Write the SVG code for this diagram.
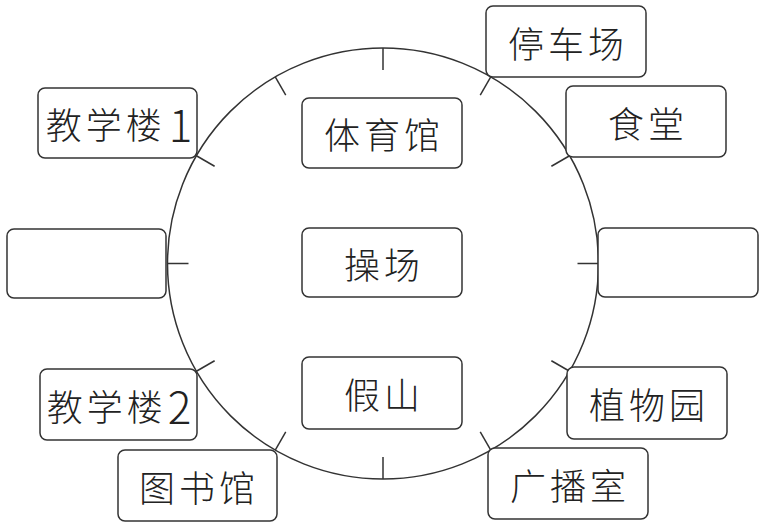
<svg xmlns="http://www.w3.org/2000/svg" width="766" height="528" viewBox="0 0 766 528">
<style>
.ring{fill:none;stroke:#333;stroke-width:1.5}
.tick{stroke:#333;stroke-width:1.5}
.box{fill:#fff;stroke:#333;stroke-width:1.5}
.lbl{font-family:"Noto Sans CJK SC","Noto Sans",sans-serif;font-size:36px;font-weight:300;fill:#222;text-anchor:middle;dominant-baseline:central;letter-spacing:4px}
.num{font-size:44px;font-weight:200}
</style>
<rect width="766" height="528" fill="#fff"/>
<g id="connectors">
<circle class="ring" cx="383" cy="263.5" r="215.5"/>
<line class="tick" x1="383" y1="48" x2="383" y2="70"/>
<line class="tick" x1="490.75" y1="76.9" x2="480.25" y2="95.1"/>
<line class="tick" x1="569.6" y1="155.75" x2="551.4" y2="166.25"/>
<line class="tick" x1="598.5" y1="263.5" x2="577.5" y2="263.5"/>
<line class="tick" x1="569.6" y1="371.25" x2="551.4" y2="360.75"/>
<line class="tick" x1="490.75" y1="450.1" x2="480.25" y2="431.9"/>
<line class="tick" x1="383" y1="479" x2="383" y2="457"/>
<line class="tick" x1="275.25" y1="450.1" x2="285.75" y2="431.9"/>
<line class="tick" x1="196.4" y1="371.25" x2="214.6" y2="360.75"/>
<line class="tick" x1="167.5" y1="263.5" x2="188.5" y2="263.5"/>
<line class="tick" x1="196.4" y1="155.75" x2="214.6" y2="166.25"/>
<line class="tick" x1="275.25" y1="76.9" x2="285.75" y2="95.1"/>
</g>
<g id="jxl1"><rect class="box" x="38" y="88" width="159" height="70" rx="7"/><text class="lbl" x="121" y="123">教学楼<tspan class="num" dx="3">1</tspan></text></g>
<g id="empty-left"><rect class="box" x="7" y="229" width="159" height="69" rx="7"/></g>
<g id="jxl2"><rect class="box" x="40" y="369" width="157" height="71" rx="7"/><text class="lbl" x="121" y="405">教学楼<tspan class="num" dx="1">2</tspan></text></g>
<g id="tsg"><rect class="box" x="118" y="450" width="159" height="71" rx="7"/><text class="lbl" x="199" y="486">图书馆</text></g>
<g id="tyg"><rect class="box" x="302" y="98" width="160" height="70" rx="7"/><text class="lbl" x="384" y="133">体育馆</text></g>
<g id="cc"><rect class="box" x="302" y="228" width="160" height="69" rx="7"/><text class="lbl" x="384" y="263">操场</text></g>
<g id="js"><rect class="box" x="302" y="357" width="160" height="72" rx="7"/><text class="lbl" x="384" y="393">假山</text></g>
<g id="tcc"><rect class="box" x="486" y="6" width="160" height="71" rx="7"/><text class="lbl" x="568" y="42">停车场</text></g>
<g id="st"><rect class="box" x="566" y="86" width="160" height="71" rx="7"/><text class="lbl" x="648" y="122">食堂</text></g>
<g id="empty-right"><rect class="box" x="598" y="228" width="160" height="69" rx="7"/></g>
<g id="zwy"><rect class="box" x="567" y="367" width="160" height="72" rx="7"/><text class="lbl" x="649" y="403">植物园</text></g>
<g id="gbs"><rect class="box" x="488" y="448" width="160" height="71" rx="7"/><text class="lbl" x="570" y="484">广播室</text></g>
</svg>
